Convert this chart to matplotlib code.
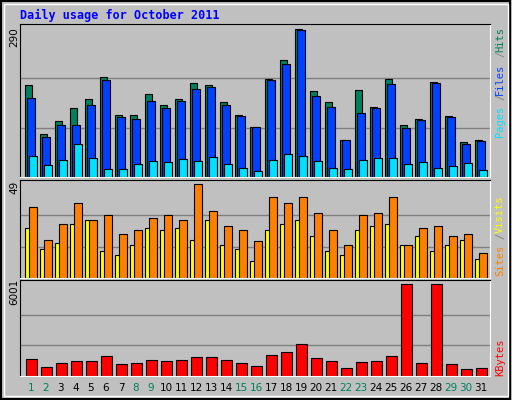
import matplotlib.pyplot as plt
import numpy as np

days = list(range(1, 32))
hits = [180, 85, 109, 136, 152, 197, 121, 121, 162, 142, 152, 184, 180, 148, 121, 99,
        192, 229, 290, 168, 148, 73, 170, 138, 192, 101, 113, 186, 119, 68, 72]
files = [154, 79, 101, 101, 142, 190, 117, 113, 150, 136, 150, 172, 176, 142, 119, 99,
         190, 221, 288, 158, 138, 73, 125, 135, 182, 97, 111, 184, 117, 64, 70]
pages = [42, 24, 34, 64, 38, 16, 16, 26, 32, 30, 36, 32, 40, 26, 18, 12,
         34, 46, 42, 32, 18, 16, 34, 38, 38, 26, 30, 18, 22, 28, 14]
visits = [37, 20, 28, 39, 30, 33, 23, 25, 31, 33, 30, 49, 35, 27, 25, 19,
          42, 39, 42, 34, 25, 17, 33, 34, 42, 17, 26, 27, 22, 23, 13]
sites = [26, 15, 18, 28, 30, 14, 12, 17, 26, 25, 26, 20, 30, 17, 15, 9,
         25, 28, 30, 22, 14, 12, 25, 27, 28, 17, 22, 14, 17, 20, 10]
kbytes = [1120, 594, 857, 990, 990, 1319, 791, 857, 1055, 990, 1055, 1253, 1253, 1055, 857, 659,
          1385, 1582, 2110, 1187, 990, 527, 923, 990, 1319, 6001, 857, 6001, 791, 462, 527]
weekend = [1, 2, 8, 9, 15, 16, 22, 23, 29, 30]

W, H = 512, 400
fig = plt.figure(figsize=(W / 100, H / 100), dpi=100)
fig.patch.set_facecolor('#C0C0C0')
d = np.array(days)


def make_ax(top, bottom):
    ax = fig.add_axes([20 / W, 1 - bottom / H, 470 / W, (bottom - top) / H])
    ax.set_facecolor('#C0C0C0')
    ax.set_xlim(0.27, 31.6)
    ax.set_xticks([])
    ax.set_yticks([])
    ax.spines['left'].set_color('black')
    ax.spines['top'].set_color('black')
    ax.spines['right'].set_color('white')
    ax.spines['bottom'].set_color('white')
    return ax


ec = dict(edgecolor='black', linewidth=0.8)

ax1 = make_ax(24, 177)
ax1.set_ylim(0, 300)
for g in (290 / 3, 2 * 290 / 3):
    ax1.axhline(g, color='#808080', lw=1, zorder=0)
ax1.bar(d - 0.4, hits, width=0.47, align='edge', color='#00805C', **ec)
ax1.bar(d - 0.29, files, width=0.53, align='edge', color='#0040FF', **ec)
ax1.bar(d - 0.13, pages, width=0.51, align='edge', color='#00E0FF', **ec)

ax2 = make_ax(180, 278)
ax2.set_ylim(0, 51)
for g in (49 / 3, 2 * 49 / 3):
    ax2.axhline(g, color='#808080', lw=1, zorder=0)
ax2.bar(d - 0.4, sites, width=0.33, align='edge', color='#FFFF00', **ec)
ax2.bar(d - 0.13, visits, width=0.51, align='edge', color='#FF8000', **ec)

ax3 = make_ax(280, 376)
ax3.set_ylim(0, 6250)
for g in (6001 / 3, 2 * 6001 / 3):
    ax3.axhline(g, color='#808080', lw=1, zorder=0)
ax3.bar(d - 0.33, kbytes, width=0.7, align='edge', color='#FF0000', **ec)

for day in days:
    x = (20 + (day - 0.27) / (31.6 - 0.27) * 470 + 0) / W
    fig.text(x, 1 - 388 / H, str(day), ha='center', va='center', fontsize=7.5,
             color='#00805C' if day in weekend else 'black', family='DejaVu Sans')

fig.text(20 / W, 1 - 15 / H, 'Daily usage for October 2011', color='#0000FF',
         family='DejaVu Sans Mono', fontweight='bold', fontsize=8.5, va='center')
for txt, y in (('290', 37), ('49', 187), ('6001', 292)):
    fig.text(14 / W, 1 - y / H, txt, rotation=90, ha='center', va='center',
             fontsize=7.5, family='DejaVu Sans')

mono = dict(rotation=90, ha='center', va='bottom', fontsize=7.5, family='DejaVu Sans Mono')
rx = 500 / W
fig.text(rx, 1 - 137 / H, 'Pages', color='#00E0FF', **mono)
fig.text(rx, 1 - 100 / H, '/', color='#808080', **mono)
fig.text(rx, 1 - 95 / H, 'Files', color='#0040FF', **mono)
fig.text(rx, 1 - 57 / H, '/', color='#808080', **mono)
fig.text(rx, 1 - 52 / H, 'Hits', color='#00805C', **mono)
fig.text(rx, 1 - 276 / H, 'Sites', color='#FF8000', **mono)
fig.text(rx, 1 - 239 / H, '/', color='#808080', **mono)
fig.text(rx, 1 - 233 / H, 'Visits', color='#FFFF00', **mono)
fig.text(rx, 1 - 376 / H, 'KBytes', color='#FF0000', **mono)

# outer frame
fig.add_artist(plt.Rectangle((0.002, 0.003), 0.995, 0.994, transform=fig.transFigure,
                             fill=False, edgecolor='black', lw=1.5))
fig.add_artist(plt.Rectangle((4 / W, 4 / H), 504 / W, 392 / H, transform=fig.transFigure,
                             fill=False, edgecolor='white', lw=1))

fig.savefig('out.png', dpi=100, facecolor=fig.get_facecolor())
